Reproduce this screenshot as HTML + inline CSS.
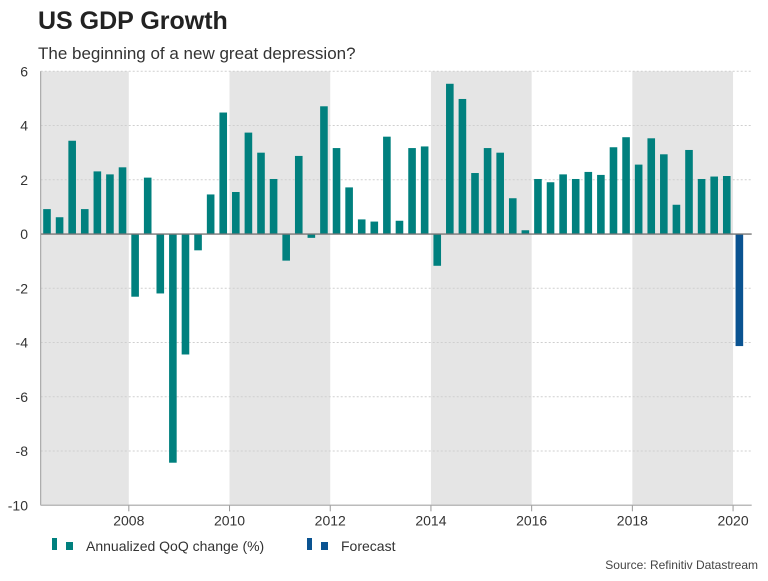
<!DOCTYPE html>
<html><head><meta charset="utf-8"><style>
body{margin:0;background:#fff;font-family:"Liberation Sans",sans-serif;}
svg text{font-family:"Liberation Sans",sans-serif;}
</style></head><body>
<svg id="c" width="768" height="576" xmlns="http://www.w3.org/2000/svg">
<text x="38" y="29" font-size="25" font-weight="bold" fill="#222">US GDP Growth</text>
<text x="38" y="59" font-size="17" fill="#333">The beginning of a new great depression?</text>
<g id="shade"></g><g id="grid"></g><g id="bars"></g><g id="axes"></g>
<g>
<rect x="52" y="538" width="5" height="12" fill="#00807e"/>
<rect x="66" y="542" width="7" height="8" fill="#00807e"/>
<text x="86" y="551" font-size="14" fill="#333">Annualized QoQ change (%)</text>
<rect x="307" y="538" width="5" height="12" fill="#0a5391"/>
<rect x="321" y="542" width="7" height="8" fill="#0a5391"/>
<text x="341" y="551" font-size="14" fill="#333">Forecast</text>
</g>
<text x="758" y="569" font-size="12" fill="#444" text-anchor="end">Source: Refinitiv Datastream</text>
</svg>
<script>
const startQuarter = [2006, 2];
const growth = [0.92,0.62,3.44,0.92,2.31,2.20,2.46,-2.31,2.08,-2.19,-8.43,-4.44,-0.60,1.46,4.48,1.55,3.74,3.00,2.03,-0.98,2.88,-0.14,4.71,3.17,1.72,0.54,0.46,3.59,0.49,3.17,3.23,-1.17,5.54,4.98,2.25,3.17,3.00,1.32,0.14,2.03,1.91,2.20,2.03,2.29,2.18,3.20,3.57,2.56,3.53,2.94,1.08,3.10,2.03,2.12,2.14];
const forecast = [-4.13];
const yTicks = [6,4,2,0,-2,-4,-6,-8,-10];
const xTicks = [2008,2010,2012,2014,2016,2018,2020];
const shadedYears = [[2006,2008],[2010,2012],[2014,2016],[2018,2020]];

const NS="http://www.w3.org/2000/svg";
const X0=40.7,X1=751.7,D0=2006.25,D1=2020.37,Y0=71.3,Y1=505.3,V0=6,V1=-10;
const x=t=>X0+(t-D0)/(D1-D0)*(X1-X0);
const y=v=>Y0+(v-V0)/(V1-V0)*(Y1-Y0);
function mk(tag,attrs,parent){const e=document.createElementNS(NS,tag);for(const k in attrs)e.setAttribute(k,attrs[k]);document.getElementById(parent).appendChild(e);return e;}
shadedYears.forEach(s=>{
  const r=mk('rect',{x:Math.max(X0,x(s[0])),y:Y0,width:x(s[1])-Math.max(X0,x(s[0])),height:Y1-Y0,fill:'#e5e5e5'},'shade');
  
  
});
yTicks.forEach(v=>{
  const l=mk('line',{x1:X0,x2:X1,y1:y(v),y2:y(v),stroke:'#cfcfcf','stroke-dasharray':'2,2','stroke-width':1},'grid');
  
  
  const t=mk('text',{x:28,y:y(v)+5,'font-size':14,fill:'#333','text-anchor':'end'},'axes');
  t.textContent=v;
  
  
});
const bw=7.6;
function bar(v,i,color,name){
  const t=startQuarter[0]+(startQuarter[1]-1)*0.25+i*0.25+0.125;
  const r=mk('rect',{x:x(t)-bw/2,y:Math.min(y(0),y(v)),width:bw,height:Math.abs(y(v)-y(0)),fill:color},'bars');
  
  
}
growth.forEach((v,i)=>bar(v,i,'#00807e','growth-bar'));
forecast.forEach((v,i)=>bar(v,growth.length+i,'#0a5391','forecast-bar'));
const z=mk('line',{x1:X0,x2:X1,y1:y(0),y2:y(0),stroke:'#777','stroke-width':1.3},'axes');


const ya=mk('line',{x1:X0,x2:X0,y1:Y0,y2:Y1,stroke:'#999','stroke-width':1},'axes');


const xa=mk('line',{x1:X0,x2:X1,y1:Y1,y2:Y1,stroke:'#bbb','stroke-width':1.5},'axes');


xTicks.forEach(yr=>{
  const tk=mk('line',{x1:x(yr),x2:x(yr),y1:Y1,y2:Y1+6,stroke:'#999'},'axes');
  
  
  const t=mk('text',{x:x(yr),y:Y1+20,'font-size':14,fill:'#333','text-anchor':'middle'},'axes');
  t.textContent=yr;
  
  
});
</script>
</body></html>
